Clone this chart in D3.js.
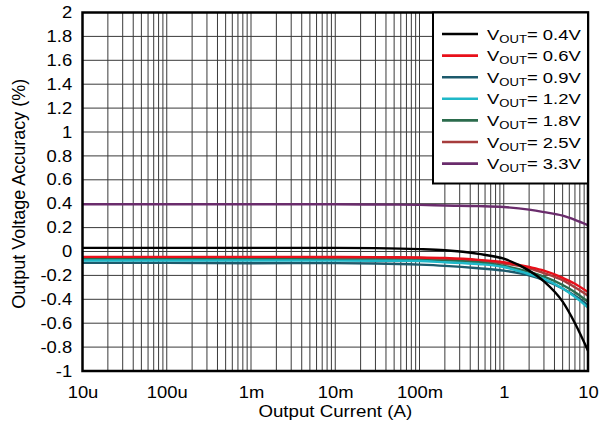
<!DOCTYPE html>
<html>
<head>
<meta charset="utf-8">
<script src="https://cdn.jsdelivr.net/npm/d3@7"></script>
<style>
  html, body { margin: 0; padding: 0; background: #fff; }
  svg { display: block; font-family: "Liberation Sans", Arial, sans-serif; }
</style>
</head>
<body>
<svg id="chart" width="600" height="427"></svg>
<script>
// Output current sample points (A)
const current = [1e-5, 1e-4, 1e-3, 1e-2, 0.03, 0.1, 0.2, 0.5, 1, 2, 3, 5, 7, 10];

// Output voltage accuracy (%) for each VOUT setting
const vout04 = [0.03, 0.03, 0.03, 0.03, 0.028, 0.02, 0.01, -0.02, -0.06, -0.16, -0.25, -0.42, -0.6, -0.83];
const vout06 = [-0.045, -0.045, -0.045, -0.046, -0.047, -0.05, -0.055, -0.07, -0.09, -0.13, -0.16, -0.22, -0.27, -0.34];
const vout09 = [-0.095, -0.095, -0.098, -0.097, -0.1, -0.11, -0.12, -0.14, -0.16, -0.2, -0.24, -0.31, -0.37, -0.45];
const vout12 = [-0.075, -0.075, -0.075, -0.076, -0.077, -0.08, -0.09, -0.105, -0.13, -0.19, -0.23, -0.31, -0.38, -0.47];
const vout18 = [-0.065, -0.065, -0.065, -0.066, -0.067, -0.07, -0.075, -0.09, -0.12, -0.17, -0.21, -0.28, -0.34, -0.42];
const vout25 = [-0.05, -0.05, -0.05, -0.051, -0.052, -0.055, -0.06, -0.075, -0.1, -0.14, -0.18, -0.24, -0.3, -0.37];
const vout33 = [0.395, 0.395, 0.395, 0.395, 0.393, 0.39, 0.385, 0.38, 0.372, 0.35, 0.33, 0.3, 0.265, 0.22];

const seriesNames = ["0.4V", "0.6V", "0.9V", "1.2V", "1.8V", "2.5V", "3.3V"];
const seriesValues = [vout04, vout06, vout09, vout12, vout18, vout25, vout33];
const seriesColors = ["#000000", "#e8101a", "#1d5a6c", "#1fb8c8", "#2b6b4c", "#a63c3c", "#6a2c6c"];

const xTickValues = [1e-5, 1e-4, 1e-3, 1e-2, 1e-1, 1, 10];
const xTickLabels = ["10u", "100u", "1m", "10m", "100m", "1", "10"];
const yTickValues = [-1, -0.8, -0.6, -0.4, -0.2, 0, 0.2, 0.4, 0.6, 0.8, 1, 1.2, 1.4, 1.6, 1.8, 2];

const margin = { left: 82.5, right: 12, top: 12.5, bottom: 56 };
const W = 600, H = 427;
const pw = W - margin.left - margin.right;
const ph = H - margin.top - margin.bottom;
// the typeface is set slightly wide
const WIDE = 1.15;

const svg = d3.select("#chart");
const g = svg.append("g").attr("transform", `translate(${margin.left},${margin.top})`);

const x = d3.scaleLog().domain([1e-5, 10]).range([0, pw]);
const y = d3.scaleLinear().domain([-1, 2]).range([ph, 0]);

// Grid: every 1..9 multiple of each decade, and every 0.2 %
const xGrid = [];
for (let e = -5; e < 1; e++) for (let m = 1; m < 10; m++) xGrid.push(m * Math.pow(10, e));
g.append("g").selectAll("line").data(xGrid.slice(1)).join("line")
  .attr("x1", d => x(d)).attr("x2", d => x(d)).attr("y1", 0).attr("y2", ph)
  .attr("stroke", "#3a3a3a").attr("stroke-width", 1);
g.append("g").selectAll("line").data(yTickValues.slice(1, -1)).join("line")
  .attr("x1", 0).attr("x2", pw).attr("y1", d => y(d)).attr("y2", d => y(d))
  .attr("stroke", "#3a3a3a").attr("stroke-width", 1);

// Curves
g.append("clipPath").attr("id", "clip").append("rect").attr("width", pw).attr("height", ph);
const line = d3.line().x(d => x(d[0])).y(d => y(d[1])).curve(d3.curveMonotoneX);
const drawOrder = [6, 5, 4, 2, 3, 1, 0];
g.append("g").attr("clip-path", "url(#clip)").selectAll("path").data(drawOrder).join("path")
  .attr("d", i => line(current.map((c, k) => [c, seriesValues[i][k]])))
  .attr("fill", "none").attr("stroke", i => seriesColors[i]).attr("stroke-width", 2.4);

// Axes (labels only, the grid carries the ticks)
const xAxis = g.append("g").attr("transform", `translate(0,${ph})`)
  .call(d3.axisBottom(x).tickValues(xTickValues).tickFormat((d, i) => xTickLabels[i]).tickSize(0).tickPadding(15.5));
const yAxis = g.append("g")
  .call(d3.axisLeft(y).tickValues(yTickValues).tickFormat(d => String(+d.toFixed(1))).tickSize(0).tickPadding(9));
[xAxis, yAxis].forEach(a => {
  a.select(".domain").remove();
  a.selectAll("text").attr("font-size", 16).attr("fill", "#000")
    .attr("font-family", "Liberation Sans, Arial, sans-serif")
    .attr("transform", `scale(${WIDE},1)`);
});

// Frame
g.append("rect").attr("width", pw).attr("height", ph).attr("fill", "none")
  .attr("stroke", "#000").attr("stroke-width", 2.5);

// Legend
const lg = g.append("g").attr("transform", `translate(${pw - 155},0)`);
lg.append("rect").attr("width", 155).attr("height", 171).attr("fill", "#fff")
  .attr("stroke", "#000").attr("stroke-width", 2);
seriesNames.forEach((name, i) => {
  const yy = 21.5 + i * 21.6;
  lg.append("line").attr("x1", 9).attr("x2", 45).attr("y1", yy).attr("y2", yy)
    .attr("stroke", seriesColors[i]).attr("stroke-width", 2.6);
  const t = lg.append("text").attr("transform", `translate(54,${yy + 5.5}) scale(1.19,1)`)
    .attr("font-size", 15.5).attr("fill", "#000");
  t.append("tspan").text("V");
  t.append("tspan").attr("font-size", 11).attr("dy", 3).text("OUT");
  t.append("tspan").attr("dy", -3).text("= " + name);
});

// Axis titles
svg.append("text").attr("transform", `translate(${margin.left + pw / 2},417) scale(1.1,1)`)
  .attr("text-anchor", "middle").attr("font-size", 17).text("Output Current (A)");
svg.append("text").attr("transform", `translate(25,${margin.top + ph / 2 + 2}) rotate(-90)`)
  .attr("text-anchor", "middle").attr("font-size", 18).text("Output Voltage Accuracy (%)");
</script>
</body>
</html>
